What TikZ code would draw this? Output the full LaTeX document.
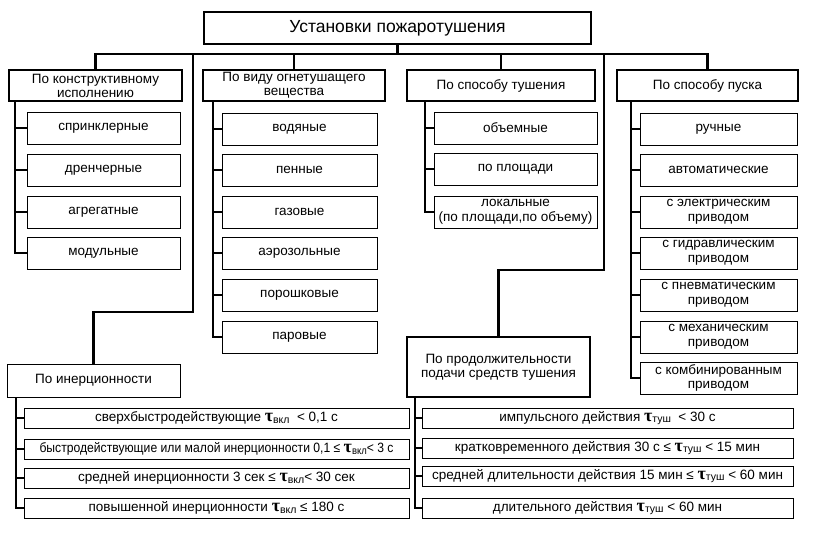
\documentclass[tikz,border=0pt]{standalone}
\usepackage{fontspec}
\setmainfont{Liberation Sans}
\newfontfamily\narrowfont[FakeStretch=0.9]{Liberation Sans}
\newfontfamily\taufont{Liberation Serif}
\newcommand\taui[1]{{\taufont\bfseries\fontsize{18}{18}\selectfont τ}\raisebox{-1.5pt}{\fontsize{10.5}{10.5}\selectfont #1}}
\tikzset{
	link/.style={line width=2.5pt, line join=miter},
	headbox/.style={draw, line width=2.5pt, minimum height=31pt, align=center, inner sep=1pt, font=\fontsize{13.5}{14}\selectfont},
	itembox/.style={draw, line width=0.9pt, minimum height=32pt, align=center, inner sep=1pt, font=\fontsize{13.5}{14.5}\selectfont},
	rowbox/.style={draw, line width=0.9pt, minimum height=20pt, inner sep=0pt, font=\fontsize{13.5}{14}\selectfont}
}
\begin{document}
\begin{tikzpicture}[x=1pt, y=-1pt]
	\useasboundingbox (0,0) rectangle (813,536);
	\node[headbox, minimum width=387pt, minimum height=32pt, font=\fontsize{17.5}{18}\selectfont] (title) at (397.5,28) {Установки пожаротушения};
	% categories
	\node[headbox, minimum width=173pt] (k1) at (95.5,85.5) {По конструктивному\\исполнению};
	\node[headbox, minimum width=182pt] (k2) at (294,85.5) {По виду огнетушащего\\вещества};
	\node[headbox, minimum width=188pt] (k3) at (501,85.5) {По способу тушения};
	\node[headbox, minimum width=181pt] (k4) at (707.5,85.5) {По способу пуска};
	\node[itembox, minimum width=173pt, minimum height=33pt] (inert) at (93.5,380.5) {По инерционности};
	\node[headbox, minimum width=183pt, minimum height=60pt] (dur) at (498.5,367) {По продолжительности\\подачи средств тушения};
	% construction
	\node[itembox, minimum width=153pt] (a1) at (103.5,128) {спринклерные};
	\node[itembox, minimum width=153pt] (a2) at (103.5,170) {дренчерные};
	\node[itembox, minimum width=153pt] (a3) at (103.5,212) {агрегатные};
	\node[itembox, minimum width=153pt] (a4) at (103.5,253) {модульные};
	% agent
	\node[itembox, minimum width=155pt] (b1) at (299.5,129) {водяные};
	\node[itembox, minimum width=155pt] (b2) at (299.5,170) {пенные};
	\node[itembox, minimum width=155pt] (b3) at (299.5,212) {газовые};
	\node[itembox, minimum width=155pt] (b4) at (299.5,253) {аэрозольные};
	\node[itembox, minimum width=155pt] (b5) at (299.5,295) {порошковые};
	\node[itembox, minimum width=155pt] (b6) at (299.5,337) {паровые};
	% method
	\node[itembox, minimum width=163pt] (c1) at (515.5,128) {объемные};
	\node[itembox, minimum width=163pt] (c2) at (515.5,169) {по площади};
	\node[itembox, minimum width=163pt] (c3) at (515.5,212) {локальные\\(по площади,по объему)};
	% start
	\node[itembox, minimum width=157pt] (e1) at (718.5,129) {ручные};
	\node[itembox, minimum width=157pt] (e2) at (718.5,170) {автоматические};
	\node[itembox, minimum width=157pt] (e3) at (718.5,212) {с электрическим\\приводом};
	\node[itembox, minimum width=157pt] (e4) at (718.5,253) {с гидравлическим\\приводом};
	\node[itembox, minimum width=157pt] (e5) at (718.5,295) {с пневматическим\\приводом};
	\node[itembox, minimum width=157pt] (e6) at (718.5,337) {с механическим\\приводом};
	\node[itembox, minimum width=157pt] (e7) at (718.5,378) {с комбинированным\\приводом};
	% inertia
	\node[rowbox, minimum width=385pt] (f1) at (216.5,418) {сверхбыстродействующие \taui{вкл}\ \ < 0,1 с};
	\node[rowbox, minimum width=385pt] (f2) at (216.5,449) {\narrowfont быстродействующие или малой инерционности 0,1 ≤ \taui{вкл}< 3 с};
	\node[rowbox, minimum width=385pt] (f3) at (216.5,478) {средней инерционности 3 сек ≤ \taui{вкл}< 30 сек};
	\node[rowbox, minimum width=385pt] (f4) at (216.5,508) {повышенной инерционности \taui{вкл} ≤ 180 с};
	% duration
	\node[rowbox, minimum width=371pt] (g1) at (607.5,418) {импульсного действия \taui{туш}\ \ < 30 с};
	\node[rowbox, minimum width=371pt] (g2) at (607.5,448) {кратковременного действия 30 с ≤ \taui{туш} < 15 мин};
	\node[rowbox, minimum width=371pt] (g3) at (607.5,476) {средней длительности действия 15 мин ≤ \taui{туш} < 60 мин};
	\node[rowbox, minimum width=371pt] (g4) at (607.5,508) {длительного действия \taui{туш} < 60 мин};

	\coordinate (bus) at (0,54);
	\coordinate (d1) at (193,312);
	\coordinate (d2) at (604,270);
	\draw[link] (title.south) -- (title.south |- bus);
	\draw[link] (k1.north) -- (k1.north |- bus) -- (k4.north |- bus) -- (k4.north);
	\draw[link] (k2.north) -- (k2.north |- bus);
	\draw[link] (k3.north) -- (k3.north |- bus);
	\draw[link] (d1 |- bus) -- (d1) -| (inert.north);
	\draw[link] (d2 |- bus) -- (d2) -| (dur.north);

	\coordinate (t1) at (15,0);
	\coordinate (t2) at (213,0);
	\coordinate (t3) at (425,0);
	\coordinate (t4) at (631,0);
	\coordinate (t5) at (16,0);
	\coordinate (t6) at (415,0);
	\draw[link] (t1 |- k1.south) |- (a4.west) (t1 |- a1) -- (a1.west) (t1 |- a2) -- (a2.west) (t1 |- a3) -- (a3.west);
	\draw[link] (t2 |- k2.south) |- (b6.west) (t2 |- b1) -- (b1.west) (t2 |- b2) -- (b2.west) (t2 |- b3) -- (b3.west) (t2 |- b4) -- (b4.west) (t2 |- b5) -- (b5.west);
	\draw[link] (t3 |- k3.south) |- (c3.west) (t3 |- c1) -- (c1.west) (t3 |- c2) -- (c2.west);
	\draw[link] (t4 |- k4.south) |- (e7.west) (t4 |- e1) -- (e1.west) (t4 |- e2) -- (e2.west) (t4 |- e3) -- (e3.west) (t4 |- e4) -- (e4.west) (t4 |- e5) -- (e5.west) (t4 |- e6) -- (e6.west);
	\draw[link] (t5 |- inert.south) |- (f4.west) (t5 |- f1) -- (f1.west) (t5 |- f2) -- (f2.west) (t5 |- f3) -- (f3.west);
	\draw[link] (t6 |- dur.south) |- (g4.west) (t6 |- g1) -- (g1.west) (t6 |- g2) -- (g2.west) (t6 |- g3) -- (g3.west);
\end{tikzpicture}
\end{document}
